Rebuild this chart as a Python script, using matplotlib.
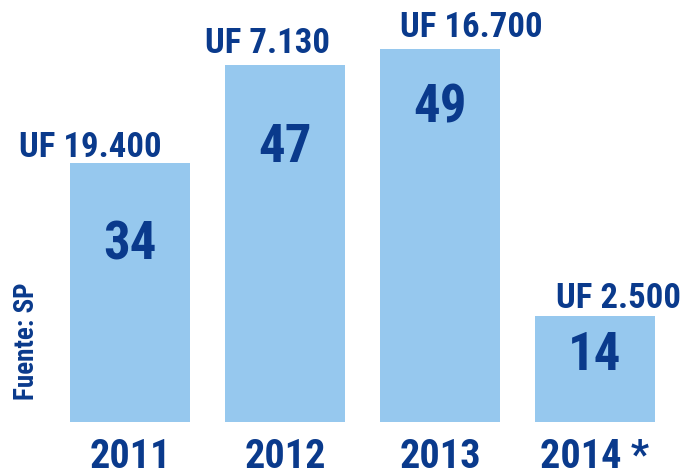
import matplotlib
matplotlib.use("Agg")
import matplotlib.pyplot as plt
import numpy as np

years = ["2011", "2012", "2013", "2014 *"]
counts = [34, 47, 49, 14]
amounts = ["UF 19.400", "UF 7.130", "UF 16.700", "UF 2.500"]
source = "Fuente: SP"

plt.rcParams["font.family"] = ["Liberation Sans Narrow", "Arial Narrow", "Roboto Condensed",
                               "Archivo Narrow", "PT Sans Narrow", "Liberation Sans", "DejaVu Sans"]

bar_color = "#96C8EE"
text_color = "#0A3A8C"

fig = plt.figure(figsize=(6.83, 4.76), dpi=100)
ax = fig.add_axes([0, 54 / 476, 1, 422 / 476])
x = np.arange(len(years))
bars = ax.bar(x, counts, width=0.78, color=bar_color)
ax.set_xlim(-0.839, 3.568)
ax.set_ylim(0, 55.5)
ax.axis("off")

# style: small label offsets (pixels)
amt_dx = [-40, -18, 31, 24]
amt_dy = [6, 12, 12, 8]
val_dy = [-82, -83, -59, -40]
for i, (b, v) in enumerate(zip(bars, counts)):
    cx = b.get_x() + b.get_width() / 2
    ax.annotate(str(v), (cx, v), xytext=(0, val_dy[i]),
                textcoords="offset pixels", ha="center", va="center", fontsize=38,
                fontweight="bold", color=text_color, annotation_clip=False)
    ax.annotate(amounts[i], (cx, v), xytext=(amt_dx[i], amt_dy[i]), textcoords="offset pixels",
                ha="center", va="baseline", fontsize=25, fontweight="bold", color=text_color,
                annotation_clip=False)
    ax.annotate(years[i], (cx, 0), xytext=(0, -46), textcoords="offset pixels",
                ha="center", va="baseline", fontsize=29, fontweight="bold", color=text_color,
                annotation_clip=False)

fig.text(26 / 683, 1 - 341 / 476, source, rotation=90, ha="center", va="center",
         fontsize=19.5, fontweight="bold", color=text_color)

fig.savefig("out.png", dpi=100)
